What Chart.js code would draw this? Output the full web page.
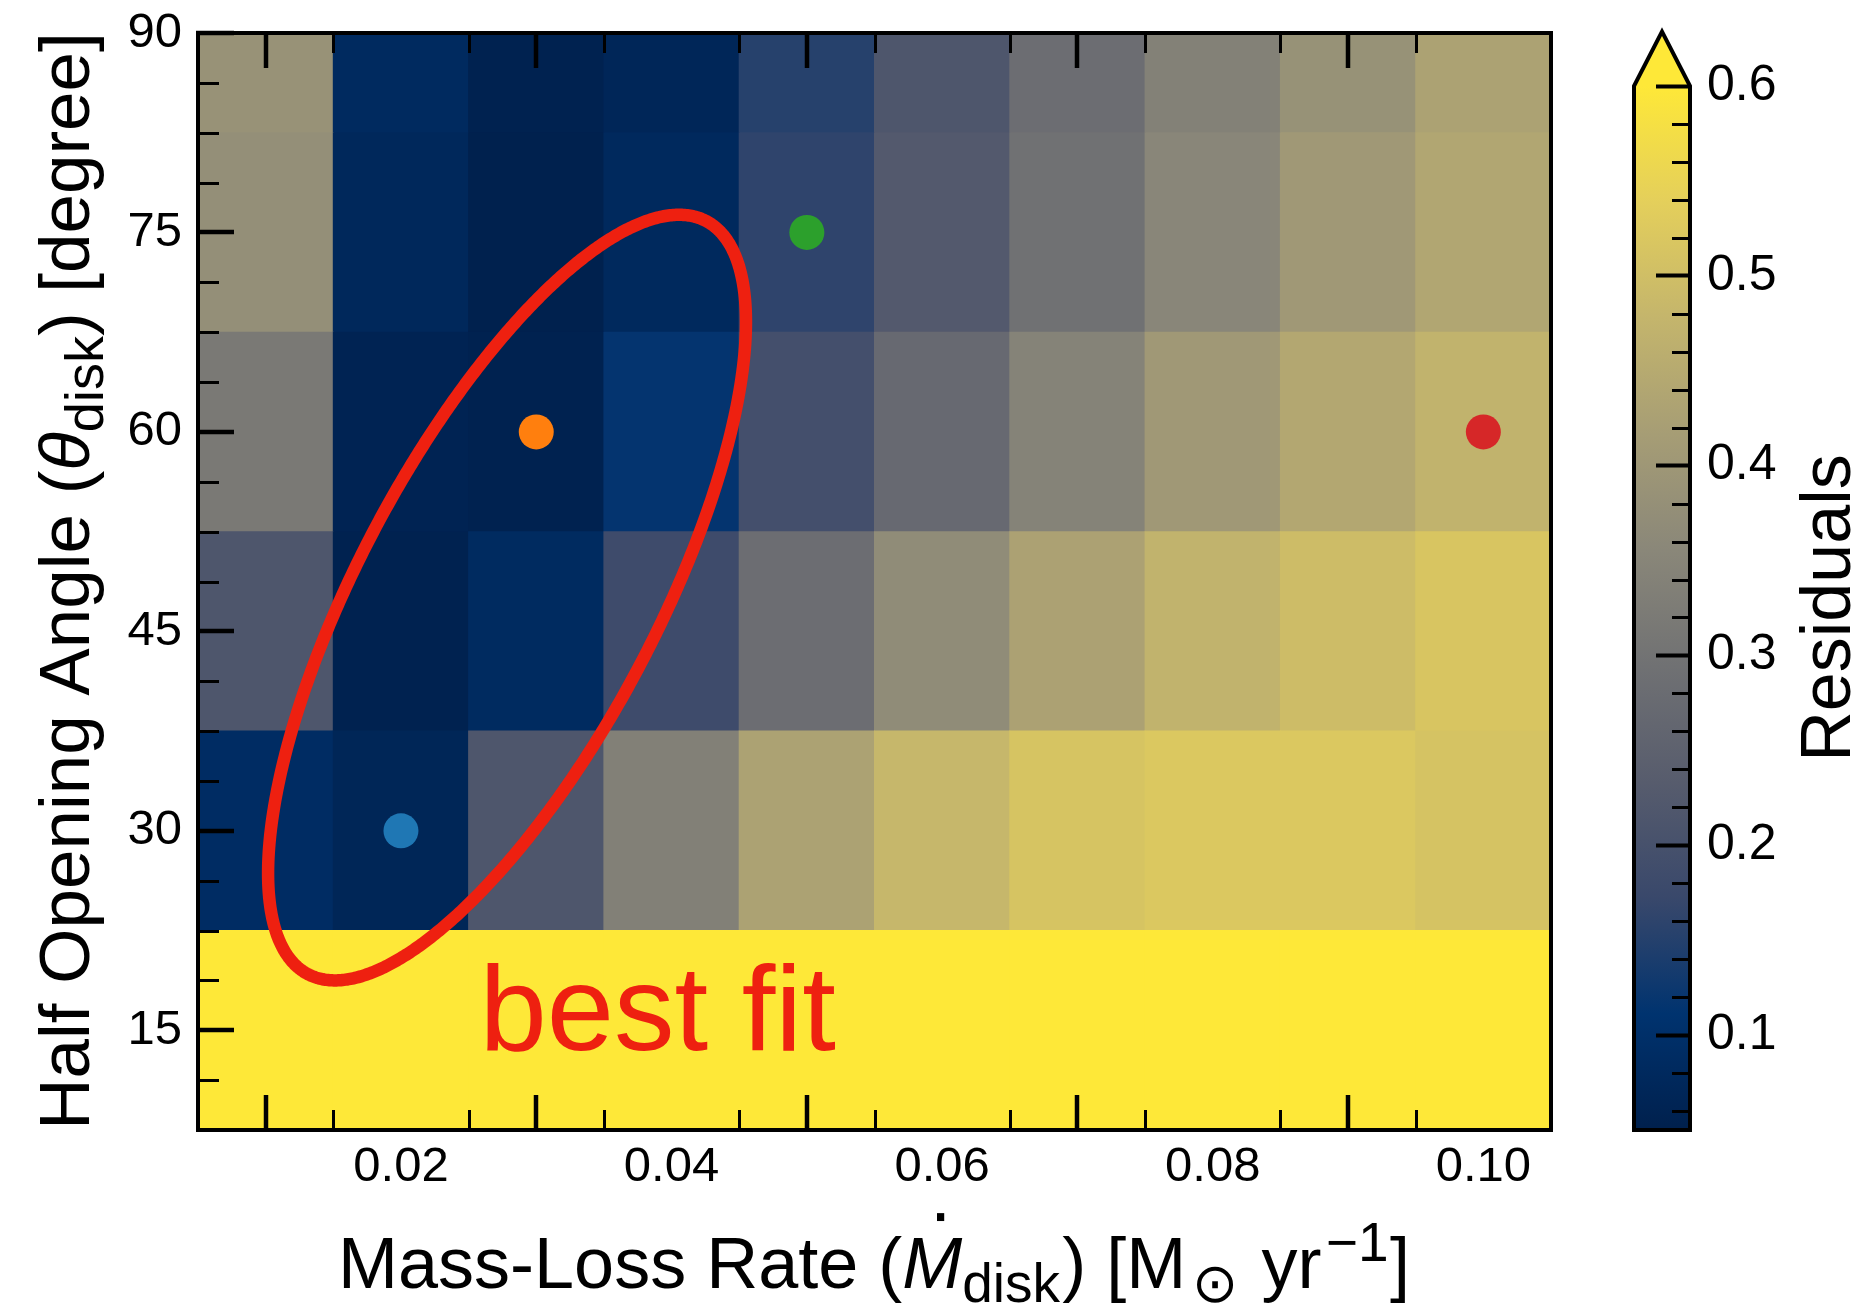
<!DOCTYPE html>
<html>
<head>
<meta charset="utf-8">
<title>Residuals: mass-loss rate vs. half opening angle</title>
<script src="https://cdn.jsdelivr.net/npm/chart.js@4.4.1/dist/chart.umd.min.js"></script>
<style>
  html, body { margin: 0; padding: 0; background: #ffffff; }
  #wrap { position: relative; width: 1875px; height: 1304px; background: #ffffff; }
  #main { position: absolute; left: 0; top: 0; }
  #cbar { position: absolute; left: 1600px; top: 0; }
</style>
</head>
<body>
<div id="wrap">
  <canvas id="main" width="1600" height="1304" style="width:1600px;height:1304px"></canvas>
  <canvas id="cbar" width="275" height="1304" style="width:275px;height:1304px"></canvas>
</div>
<script>
// ---- model grid -------------------------------------------------------
const massLossRate = [0.01, 0.02, 0.03, 0.04, 0.05, 0.06, 0.07, 0.08, 0.09, 0.10];
const openingAngle = [15, 30, 45, 60, 75, 90];

// residuals per opening-angle row, one value per mass-loss rate
const residuals15 = [0.66, 0.66, 0.66, 0.66, 0.66, 0.66, 0.66, 0.66, 0.66, 0.66];
const residuals30 = [0.089, 0.068, 0.215, 0.337, 0.429, 0.482, 0.512, 0.522, 0.522, 0.510];
const residuals45 = [0.215, 0.055, 0.085, 0.182, 0.284, 0.369, 0.428, 0.472, 0.495, 0.516];
const residuals60 = [0.318, 0.060, 0.055, 0.115, 0.195, 0.272, 0.344, 0.404, 0.443, 0.472];
const residuals75 = [0.378, 0.075, 0.052, 0.078, 0.161, 0.225, 0.294, 0.353, 0.404, 0.440];
const residuals90 = [0.386, 0.082, 0.055, 0.070, 0.152, 0.215, 0.284, 0.339, 0.385, 0.429];

// highlighted models
const markerRate  = [0.02, 0.03, 0.05, 0.10];
const markerAngle = [30, 60, 75, 60];
const markerColors = ['#1f77b4', '#ff7f0e', '#2ca02c', '#d62728'];

// best-fit region (centre, half ranges, x-y correlation) in data units
const fitCenter = [0.02784, 47.54];
const fitHalfRange = [0.01766, 28.79];
const fitCorrelation = 0.72;
const fitLabel = 'best fit';
const fitLabelAt = [0.0258, 13.5];

// axes
const xRange = [0.005, 0.105];
const yRange = [7.5, 90];
const xTickValues = [0.02, 0.04, 0.06, 0.08, 0.10];
const xTickLabels = ['0.02', '0.04', '0.06', '0.08', '0.10'];
const yTickValues = [15, 30, 45, 60, 75, 90];
const yTickLabels = ['15', '30', '45', '60', '75', '90'];
const xMinorStep = 0.005;
const yMinorStep = 3.75;

// colour bar
const residualRange = [0.05, 0.6];
const cbTickValues = [0.1, 0.2, 0.3, 0.4, 0.5, 0.6];
const cbTickLabels = ['0.1', '0.2', '0.3', '0.4', '0.5', '0.6'];
const cbMinorStep = 0.02;
const cbLabel = 'Residuals';

// ---- styling ----------------------------------------------------------
const FONT = "'Liberation Sans', Arial, Helvetica, sans-serif";
const RED = '#ee2010';
Chart.defaults.font.family = FONT;
Chart.defaults.color = '#000000';

// cividis colour map stops [t, r, g, b]
const CIVIDIS = [
  [0 / 9, 0, 32, 77], [1 / 9, 0, 51, 111], [2 / 9, 57, 72, 107], [3 / 9, 87, 92, 109],
  [4 / 9, 112, 113, 115], [5 / 9, 138, 135, 121], [6 / 9, 166, 157, 117],
  [7 / 9, 196, 181, 108], [8 / 9, 228, 207, 91], [9 / 9, 254, 232, 56]
];
function cividis(t) {
  t = Math.min(1, Math.max(0, t));
  for (let i = 1; i < CIVIDIS.length; i++) {
    const a = CIVIDIS[i - 1], b = CIVIDIS[i];
    if (t <= b[0]) {
      const f = (t - a[0]) / (b[0] - a[0]);
      const c = [1, 2, 3].map(k => Math.round(a[k] + (b[k] - a[k]) * f));
      return `rgb(${c[0]},${c[1]},${c[2]})`;
    }
  }
  const l = CIVIDIS[CIVIDIS.length - 1];
  return `rgb(${l[1]},${l[2]},${l[3]})`;
}
const overColor = cividis(1);
function residualColor(v) {
  if (v > residualRange[1]) return overColor;
  return cividis((v - residualRange[0]) / (residualRange[1] - residualRange[0]));
}

// ---- heat-map cells as floating bars --------------------------------------
const residualRows = [residuals15, residuals30, residuals45, residuals60, residuals75, residuals90];
const halfRow = (openingAngle[1] - openingAngle[0]) / 2;
const cellDatasets = openingAngle.map((angle, r) => ({
  type: 'bar',
  label: 'angle ' + angle,
  data: massLossRate.map(rate => ({ x: rate, y: [angle - halfRow, angle + halfRow] })),
  backgroundColor: residualRows[r].map(residualColor),
  borderWidth: 0,
  barPercentage: 1,
  categoryPercentage: 1,
  grouped: false,
  inflateAmount: 0.5,
  clip: 0,
  order: 2
}));

const markerDataset = {
  type: 'scatter',
  label: 'models',
  data: markerRate.map((x, i) => ({ x, y: markerAngle[i] })),
  pointBackgroundColor: markerColors,
  pointBorderColor: markerColors,
  pointBorderWidth: 0,
  pointRadius: 17.5,
  pointHoverRadius: 17.5,
  clip: 0,
  order: 0
};

// rich text (italic, sub/superscripts) drawn along a baseline
function drawRich(ctx, parts, x, y, size, align) {
  const fontOf = p => `${p.italic ? 'italic ' : ''}${Math.round(size * (p.scale || 1))}px ${FONT}`;
  const widths = parts.map(p => { ctx.font = fontOf(p); return ctx.measureText(p.text).width + (p.gap || 0) * size; });
  const total = widths.reduce((s, w) => s + w, 0);
  let cx = align === 'center' ? x - total / 2 : x;
  ctx.textAlign = 'left';
  ctx.textBaseline = 'alphabetic';
  parts.forEach((p, i) => {
    ctx.font = fontOf(p);
    const g = (p.gap || 0) * size;
    ctx.fillText(p.text, cx + g, y + (p.shift || 0) * size);
    if (p.dot) {
      const d = size * 0.1;
      const w = widths[i] - g;
      ctx.fillRect(cx + g + w * 0.64 - d / 2, y - size * 0.99 - d / 2, d, d * 1.1);
    }
    cx += widths[i];
  });
}

const SUB = { scale: 0.76, shift: 0.2 };
const SUP = { scale: 0.76, shift: -0.37 };
const xTitle = [
  { text: 'Mass-Loss Rate (' },
  { text: 'M', italic: true, dot: true },
  Object.assign({ text: 'disk' }, SUB),
  { text: ') [M', gap: 0.03 },
  Object.assign({ text: '\u2299', gap: 0.08 }, SUB),
  { text: ' yr', gap: 0.05 },
  Object.assign({ text: '\u22121', gap: 0.06 }, SUP),
  { text: ']', gap: 0.02 }
];
const yTitle = [
  { text: 'Half Opening Angle (' },
  { text: '\u03B8', italic: true },
  Object.assign({ text: 'disk' }, SUB),
  { text: ') [degree]' }
];

// minor tick marks, best-fit outline and label, axis titles
const decorPlugin = {
  id: 'decor',
  afterDatasetsDraw(chart) {
    const { ctx, chartArea: a, scales } = chart;
    const sx = scales.x, sy = scales.y;
    ctx.save();
    ctx.beginPath();
    ctx.rect(a.left, a.top, a.right - a.left, a.bottom - a.top);
    ctx.clip();

    // best-fit outline
    const delta = Math.acos(fitCorrelation);
    ctx.beginPath();
    for (let k = 0; k <= 720; k++) {
      const t = (k / 720) * 2 * Math.PI;
      const px = sx.getPixelForValue(fitCenter[0] + fitHalfRange[0] * Math.cos(t));
      const py = sy.getPixelForValue(fitCenter[1] + fitHalfRange[1] * Math.cos(t - delta));
      if (k === 0) ctx.moveTo(px, py); else ctx.lineTo(px, py);
    }
    ctx.closePath();
    ctx.strokeStyle = RED;
    ctx.lineWidth = 12.5;
    ctx.lineJoin = 'round';
    ctx.stroke();

    ctx.fillStyle = RED;
    ctx.font = `121px ${FONT}`;
    ctx.textAlign = 'left';
    ctx.textBaseline = 'alphabetic';
    ctx.fillText(fitLabel, sx.getPixelForValue(fitLabelAt[0]), sy.getPixelForValue(fitLabelAt[1]));

    // minor ticks (inward)
    ctx.strokeStyle = '#000';
    ctx.lineWidth = 3;
    ctx.beginPath();
    const nx = Math.round((xRange[1] - xRange[0]) / xMinorStep);
    for (let i = 1; i < nx; i++) {
      const v = xRange[0] + i * xMinorStep;
      if (xTickValues.some(m => Math.abs(m - v) < 1e-9)) continue;
      const px = Math.round(sx.getPixelForValue(v)) + 0.5;
      ctx.moveTo(px, a.bottom); ctx.lineTo(px, a.bottom - 20);
      ctx.moveTo(px, a.top); ctx.lineTo(px, a.top + 20);
    }
    const ny = Math.round((yRange[1] - yRange[0]) / yMinorStep);
    for (let i = 1; i < ny; i++) {
      const v = yRange[0] + i * yMinorStep;
      if (yTickValues.some(m => Math.abs(m - v) < 1e-9)) continue;
      const py = Math.round(sy.getPixelForValue(v)) + 0.5;
      ctx.moveTo(a.left, py); ctx.lineTo(a.left + 21, py);
    }
    ctx.stroke();
    ctx.restore();
  },
  afterDraw(chart) {
    const { ctx } = chart;
    ctx.save();
    ctx.fillStyle = '#000';
    drawRich(ctx, xTitle, 874, 1288, 72, 'center');
    ctx.translate(89, 581);
    ctx.rotate(-Math.PI / 2);
    drawRich(ctx, yTitle, 0, 0, 71, 'center');
    ctx.restore();
  }
};

// keep tick labels from pushing the plot area inwards
const noLabelPadding = s => { s.paddingTop = 0; s.paddingBottom = 0; s.paddingLeft = 0; s.paddingRight = 0; };

const inwardGrid = (len) => ({
  display: true, drawOnChartArea: false, drawTicks: true,
  tickLength: -len, tickWidth: 4.5, tickColor: '#000', lineWidth: 4, color: '#000', z: 1
});
const frame = { display: true, color: '#000', width: 4, z: 1 };

new Chart(document.getElementById('main'), {
  type: 'bar',
  data: { datasets: [markerDataset, ...cellDatasets] },
  options: {
    responsive: false,
    animation: false,
    devicePixelRatio: 1,
    layout: { padding: { left: 0, top: 33, right: 49, bottom: 0 } },
    plugins: { legend: { display: false }, tooltip: { enabled: false } },
    scales: {
      x: {
        type: 'linear', position: 'bottom', min: xRange[0], max: xRange[1], offset: false,
        afterBuildTicks: s => { s.ticks = xTickValues.map(v => ({ value: v })); },
        afterFit: s => { s.height = 174; noLabelPadding(s); },
        ticks: { callback: (v, i) => xTickLabels[i], padding: 43, font: { size: 49 }, maxRotation: 0, autoSkip: false },
        grid: inwardGrid(35), border: frame
      },
      xTop: {
        type: 'linear', position: 'top', min: xRange[0], max: xRange[1], offset: false,
        afterBuildTicks: s => { s.ticks = xTickValues.map(v => ({ value: v })); },
        afterFit: s => { s.height = 0; noLabelPadding(s); },
        ticks: { display: false },
        grid: inwardGrid(35), border: frame
      },
      y: {
        type: 'linear', position: 'left', min: yRange[0], max: yRange[1],
        afterBuildTicks: s => { s.ticks = yTickValues.map(v => ({ value: v })); },
        afterFit: s => { s.width = 198; noLabelPadding(s); },
        ticks: { callback: (v, i) => yTickLabels[i], padding: 52, font: { size: 49 }, autoSkip: false },
        grid: inwardGrid(36), border: frame
      },
      yRight: {
        type: 'linear', position: 'right', min: yRange[0], max: yRange[1],
        afterFit: s => { s.width = 0; noLabelPadding(s); },
        ticks: { display: false },
        grid: { display: false, drawOnChartArea: false, drawTicks: false, lineWidth: 4, z: 1 },
        border: frame
      }
    }
  },
  plugins: [decorPlugin]
});

// ---- colour bar -----------------------------------------------------------
function cbGradient(context) {
  const chart = context.chart;
  const sy = chart.scales.y;
  if (!chart.chartArea || !sy) return overColor;
  const g = chart.ctx.createLinearGradient(0, sy.getPixelForValue(residualRange[0]), 0, sy.getPixelForValue(residualRange[1]));
  CIVIDIS.forEach(s => g.addColorStop(s[0], `rgb(${s[1]},${s[2]},${s[3]})`));
  return g;
}

const colorbarPlugin = {
  id: 'colorbarFrame',
  afterDatasetsDraw(chart) {
    const { ctx, chartArea: a, scales } = chart;
    const sy = scales.y;
    const yTop = sy.getPixelForValue(residualRange[1]);
    const yBot = sy.getPixelForValue(residualRange[0]);
    const apex = 31.7;
    const cx = (a.left + a.right) / 2;
    ctx.save();
    // extension triangle for values above the range
    ctx.beginPath();
    ctx.moveTo(a.left, yTop); ctx.lineTo(cx, apex); ctx.lineTo(a.right, yTop); ctx.closePath();
    ctx.fillStyle = overColor;
    ctx.fill();
    // outline
    ctx.beginPath();
    ctx.moveTo(a.left, yBot); ctx.lineTo(a.left, yTop); ctx.lineTo(cx, apex);
    ctx.lineTo(a.right, yTop); ctx.lineTo(a.right, yBot); ctx.closePath();
    ctx.strokeStyle = '#000';
    ctx.lineWidth = 4;
    ctx.lineJoin = 'miter';
    ctx.stroke();
    // minor ticks
    ctx.lineWidth = 3;
    ctx.beginPath();
    const n = Math.round((residualRange[1] - residualRange[0]) / cbMinorStep);
    for (let i = 0; i <= n; i++) {
      const v = +(0.06 + i * cbMinorStep).toFixed(4);
      if (v >= residualRange[1]) break;
      if (cbTickValues.some(m => Math.abs(m - v) < 1e-9)) continue;
      const py = Math.round(sy.getPixelForValue(v)) + 0.5;
      ctx.moveTo(a.right, py); ctx.lineTo(a.right - 18, py);
    }
    ctx.stroke();
    ctx.restore();
  },
  afterDraw(chart) {
    const { ctx, scales } = chart;
    const sy = scales.y;
    const mid = (sy.getPixelForValue(residualRange[0]) + sy.getPixelForValue(residualRange[1])) / 2;
    ctx.save();
    ctx.fillStyle = '#000';
    ctx.translate(250, mid);
    ctx.rotate(-Math.PI / 2);
    ctx.font = `70px ${FONT}`;
    ctx.textAlign = 'center';
    ctx.textBaseline = 'alphabetic';
    ctx.fillText(cbLabel, 0, 0);
    ctx.restore();
  }
};

new Chart(document.getElementById('cbar'), {
  type: 'bar',
  data: {
    labels: [cbLabel],
    datasets: [{
      label: cbLabel,
      data: [[residualRange[0], residualRange[1]]],
      backgroundColor: cbGradient,
      borderWidth: 0,
      barPercentage: 1,
      categoryPercentage: 1,
      inflateAmount: 0
    }]
  },
  options: {
    responsive: false,
    animation: false,
    devicePixelRatio: 1,
    layout: { padding: { left: 34, top: 86, right: 0, bottom: 174 } },
    plugins: { legend: { display: false }, tooltip: { enabled: false } },
    scales: {
      x: { display: false, offset: true },
      y: {
        position: 'right', min: residualRange[0], max: residualRange[1],
        afterBuildTicks: s => { s.ticks = cbTickValues.map(v => ({ value: v })); },
        afterFit: s => { s.width = 185; },
        ticks: { callback: (v, i) => cbTickLabels[i], padding: 51, font: { size: 50 }, autoSkip: false },
        grid: { display: true, drawOnChartArea: false, drawTicks: true, tickLength: -34, tickWidth: 4, tickColor: '#000', z: 1 },
        border: { display: false }
      }
    }
  },
  plugins: [colorbarPlugin]
});
</script>
</body>
</html>
